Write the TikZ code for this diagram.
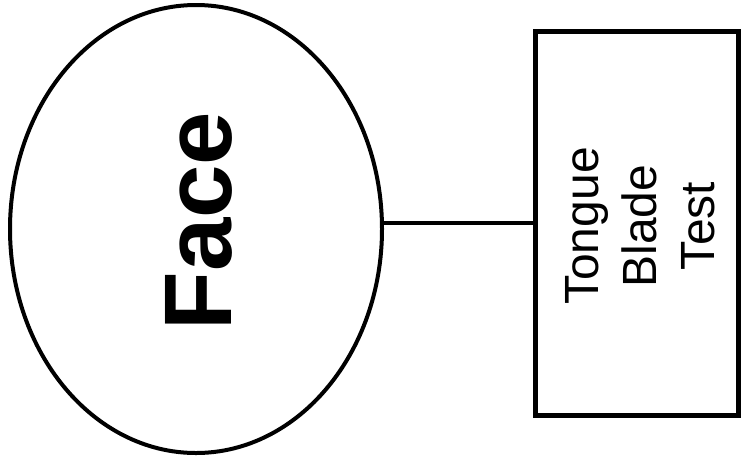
\documentclass[tikz,border=0pt]{standalone}
\usepackage{fontspec}
\setmainfont{Liberation Sans}
\usetikzlibrary{shapes.geometric}
\begin{document}
\begin{tikzpicture}[x=1pt,y=-1pt,
  facebox/.style={ellipse,draw=black,line width=4pt,minimum width=372pt,minimum height=448pt,inner sep=0pt},
  testbox/.style={rectangle,draw=black,line width=5pt,minimum width=203pt,minimum height=384pt,inner sep=0pt},
  bigtext/.style={rotate=90,font=\bfseries\fontsize{96}{110}\selectfont,inner sep=0pt},
  boxtext/.style={rotate=90,align=center,font=\fontsize{48}{58}\selectfont,inner sep=0pt},
  conn/.style={draw=black,line width=4pt}]
\useasboundingbox (0,0) rectangle (746,459);
\node[facebox] (face) at (196,229) {};
\node[bigtext,anchor=base] (facetext) at (231,221) {Face};
\node[testbox] (test) at (636.5,223) {};
\node[boxtext,anchor=center] (testtext) at (640.5,226) {Tongue\\Blade\\Test};
\draw[conn] (test.west) -- (test.west -| face.east);
\end{tikzpicture}
\end{document}
